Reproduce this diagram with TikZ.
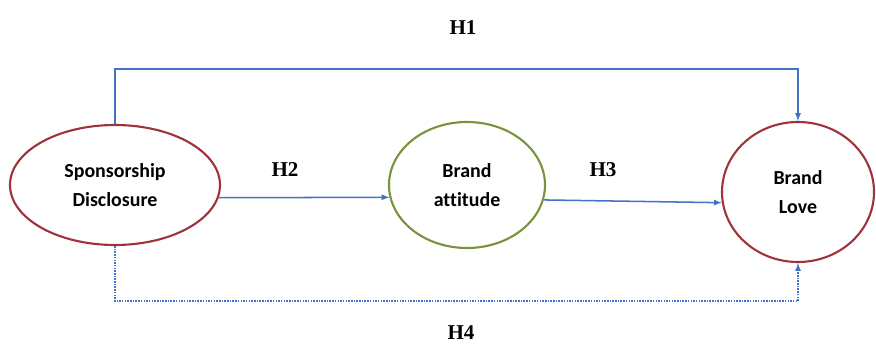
\documentclass[tikz,border=0pt]{standalone}
\usepackage{fontspec}
\setmainfont{Liberation Serif}
\newfontfamily\labelfont[Ligatures=NoCommon]{Carlito}
\usetikzlibrary{shapes.geometric}

\definecolor{linkblue}{RGB}{68,114,196}
\definecolor{loveRed}{RGB}{160,50,60}
\definecolor{attGreen}{RGB}{119,147,60}

\begin{document}
\begin{tikzpicture}[x=0.3mm, y=-0.3mm,
    construct/.style={ellipse, draw=#1, line width=1.8pt, align=center,
        font=\labelfont\bfseries\fontsize{17}{25}\selectfont},
    link/.style={draw=linkblue, line width=1.3pt, -latex},
    hyp/.style={font=\bfseries\fontsize{18}{20}\selectfont}]
    \useasboundingbox (0,0) rectangle (876,344);% Fix the page size

    % Constructs
    \node[construct=loveRed, minimum width=63mm, minimum height=36mm] (sd) at (115,185) {Sponsorship\\Disclosure};
    \node[construct=attGreen, minimum width=46.8mm, minimum height=37.8mm] (ba) at (467,185) {Brand\\attitude};
    \node[construct=loveRed, minimum width=45.6mm, minimum height=42mm] (bl) at (798,192) {Brand\\Love};

    % Hypothesis labels
    \node[hyp] (h1) at (463,28) {H1};
    \node[hyp] (h2) at (285,170) {H2};
    \node[hyp] (h3) at (603,170) {H3};
    \node[hyp] (h4) at (461,333) {H4};

    % Paths
    \draw[link] (sd.north) -- ++(0,-55) -| (bl.north); % direct effect
    \draw[link] (sd.-7) -- (ba.189);
    \draw[link] (ba.-11) -- (bl.188);
    \draw[link, densely dotted] (sd.south) -- ++(0,55) -| (bl.south); % mediated effect
\end{tikzpicture}
\end{document}
